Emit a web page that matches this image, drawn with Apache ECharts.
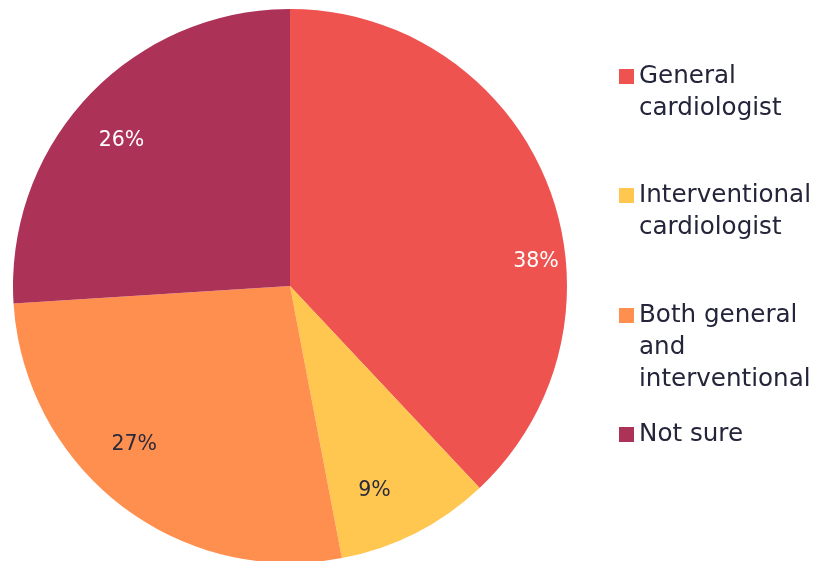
<!DOCTYPE html>
<html>
<head>
<meta charset="utf-8">
<script src="https://cdn.jsdelivr.net/npm/echarts@6/dist/echarts.min.js"></script>
<style>
  html, body { margin: 0; padding: 0; background: #ffffff; }
  #chart { width: 817px; height: 561px; }
</style>
</head>
<body>
<div id="chart"></div>
<script>
// Survey answer shares (percent)
const categories = [
  'General\ncardiologist',
  'Interventional\ncardiologist',
  'Both general\nand\ninterventional',
  'Not sure'
];
const values = [38, 9, 27, 26];
const colors = ['#EE534F', '#FFC650', '#FF8F4F', '#AD3258'];
const labelColors = ['#ffffff', '#2a2a3c', '#2a2a3c', '#ffffff'];

// Fine placement of the percentage labels inside each slice
const labelShift = [[40, 57], [-16, 7], [-20, -16], [-7, 6]];
// Vertical centre of each legend icon
const legendIconY = [76.5, 195.5, 315.5, 434.5];

const FONT = 'DejaVu Sans, Inter, sans-serif';
const LINE_H = 32;

const pieData = categories.map((name, i) => ({
  name,
  value: values[i],
  itemStyle: { color: colors[i] }
}));

// One legend per entry so the icon sits beside the first text line
const legends = categories.map((name, i) => {
  const n = name.split('\n').length;
  const blockH = (2 * n - 1) * LINE_H;
  return {
    data: [name],
    left: 619,
    top: legendIconY[i] - blockH / 2,
    orient: 'vertical',
    padding: 0,
    itemWidth: 15,
    itemHeight: 15,
    icon: 'rect',
    selectedMode: false,
    formatter: (nm) => '\n'.repeat(n - 1) + nm,
    textStyle: {
      fontFamily: FONT,
      fontSize: 24.6,
      lineHeight: LINE_H,
      color: '#24243a'
    }
  };
});

const chart = echarts.init(document.getElementById('chart'), null, { renderer: 'canvas' });
chart.setOption({
  animation: false,
  backgroundColor: '#ffffff',
  legend: legends,
  series: [
    {
      type: 'pie',
      center: [290, 286],
      radius: [0, 277],
      startAngle: 90,
      clockwise: true,
      label: { show: false },
      labelLine: { show: false },
      emphasis: { scale: false },
      data: pieData
    },
    {
      // transparent ring that only carries the percentage labels
      type: 'pie',
      center: [290, 286],
      radius: [160, 277],
      startAngle: 90,
      clockwise: true,
      silent: true,
      itemStyle: { color: 'rgba(0,0,0,0)' },
      labelLine: { show: false },
      label: {
        show: true,
        position: 'inside',
        rotate: 0,
        fontFamily: FONT,
        fontSize: 20.5,
        formatter: (p) => p.value + '%',
        color: (p) => labelColors[p.dataIndex]
      },
      labelLayout: (p) => ({
        dx: labelShift[p.dataIndex][0],
        dy: labelShift[p.dataIndex][1]
      }),
      data: categories.map((name, i) => ({
        name,
        value: values[i],
        label: { color: labelColors[i] }
      }))
    }
  ]
});
</script>
</body>
</html>
